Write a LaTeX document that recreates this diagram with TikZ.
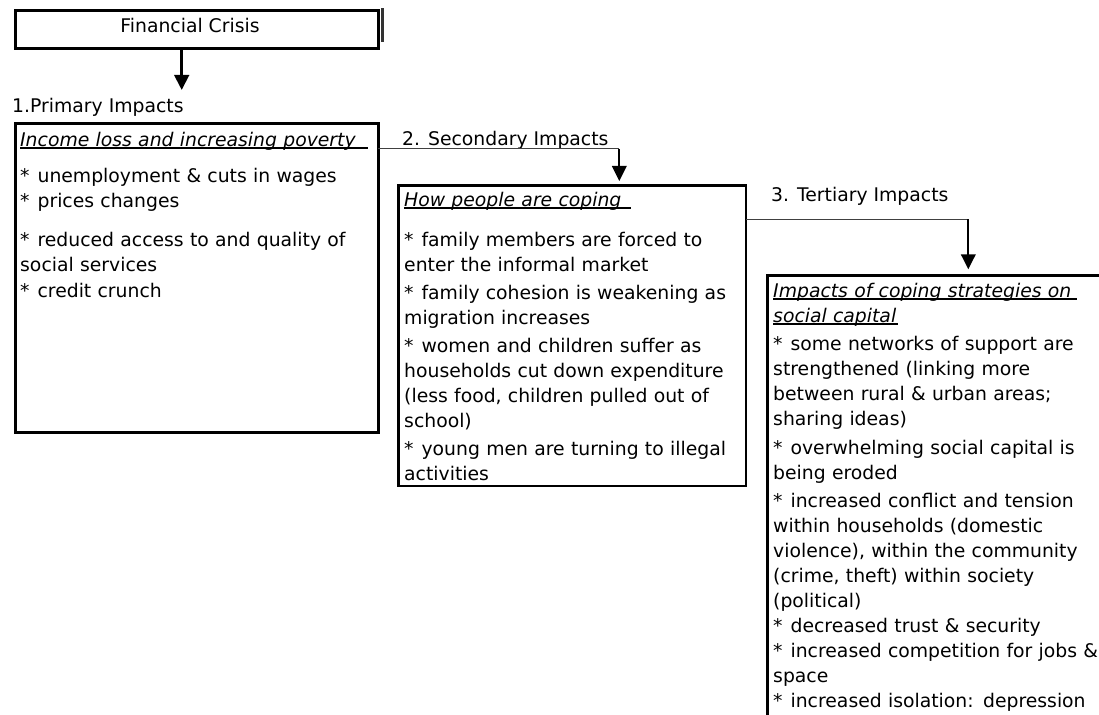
\documentclass[tikz,border=0pt]{standalone}
\usepackage{fontspec}
\setmainfont{DejaVu Sans}
\usetikzlibrary{arrows.meta}

\newcommand{\diagfont}{\fontsize{18.8pt}{25pt}\selectfont}
\newsavebox\ttlbox
% underlined italic heading, optional trailing underline
\newcommand{\ttl}[2][8pt]{\leavevmode\sbox\ttlbox{\itshape #2\hspace{#1}}\rlap{\rule[-2.6pt]{\wd\ttlbox}{1.3pt}}\usebox\ttlbox}
\newcommand{\itm}{*\hspace{8pt}}

\begin{document}
\begin{tikzpicture}[x=1pt, y=-1pt,
	box/.style={draw, line width=3pt, anchor=north west, inner sep=0pt, outer sep=0pt},
	txt/.style={anchor=north west, inner sep=0pt, align=left, text width=380pt, font=\diagfont},
	lbl/.style={anchor=base west, inner sep=0pt, font=\diagfont},
	link/.style={line width=1pt, black!75},
	drop/.style={line width=2.2pt, -{Triangle[width=14.5pt,length=15pt]}}]
		\useasboundingbox (0,0) rectangle (1099,714);
		
		%financial crisis
		\node[box, minimum width=363.5pt, minimum height=37.8pt] (crisis) at (15,10.5){};
		\node[font=\diagfont, anchor=base] (crisislbl) at (190,33){Financial Crisis};
		\draw[line width=3pt, black!80] ([xshift=4pt, yshift=2pt]crisis.north east) -- ([xshift=4pt, yshift=6pt]crisis.south east);
		
		%primary
		\node[lbl] (primlbl) at (12,113){1.Primary Impacts};
		\node[box, minimum width=363.3pt, minimum height=308.5pt] (primary) at (15,124){};
		\node[txt] (primtxt) at (20,131.7){\ttl[12pt]{Income loss and increasing poverty}\\[11pt]
			\itm unemployment \& cuts in wages\\
			\itm prices changes\\[14.5pt]
			\itm reduced access to and quality of\\
			social services\\[1pt]
			\itm credit crunch};
		
		%secondary
		\node[lbl] (seclbl) at (402,146){2. Secondary Impacts};
		\node[box, line width=2.5pt, minimum width=347.7pt, minimum height=300.7pt] (secondary) at (398.3,185.3){};
		\node[txt] (sectxt) at (404,191.7){\ttl[10pt]{How people are coping}\\[15.5pt]
			\itm family members are forced to\\
			enter the informal market\\[3pt]
			\itm family cohesion is weakening as\\
			migration increases\\[3pt]
			\itm women and children suffer as\\
			households cut down expenditure\\
			(less food, children pulled out of\\
			school)\\[3pt]
			\itm young men are turning to illegal\\
			activities};
		
		%tertiary
		\node[lbl] (terlbl) at (771,201.5){3. Tertiary Impacts};
		\node[box, minimum width=420pt, minimum height=480pt] (tertiary) at (767.7,275){};
		\node[txt] (tertxt) at (773,282.7){\ttl[6pt]{Impacts of coping strategies on}\\
			\ttl[2pt]{social capital}\\[3.5pt]
			\itm some networks of support are\\
			strengthened (linking more\\
			between rural \& urban areas;\\
			sharing ideas)\\[3.5pt]
			\itm overwhelming social capital is\\
			being eroded\\[3.5pt]
			\itm increased conflict and tension\\
			within households (domestic\\
			violence), within the community\\
			(crime, theft) within society\\
			(political)\\
			\itm decreased trust \& security\\
			\itm increased competition for jobs \&\\
			space\\
			\itm increased isolation: depression};
		
		%connectors
		\coordinate (tip1) at (181.7,90);
		\draw[drop, line width=3pt] (crisis.south -| tip1) -- (tip1);
		
		\coordinate (turn2) at (619.3,149);
		\draw[link] (turn2 -| primary.east) -- (turn2);
		\draw[drop, shorten >=4.3pt] (turn2) -- (turn2 |- secondary.north);
		
		\coordinate (turn3) at (968.3,219);
		\draw[link] (turn3 -| secondary.east) -- (turn3);
		\draw[drop, shorten >=5.7pt] (turn3) -- (turn3 |- tertiary.north);
\end{tikzpicture}
\end{document}
